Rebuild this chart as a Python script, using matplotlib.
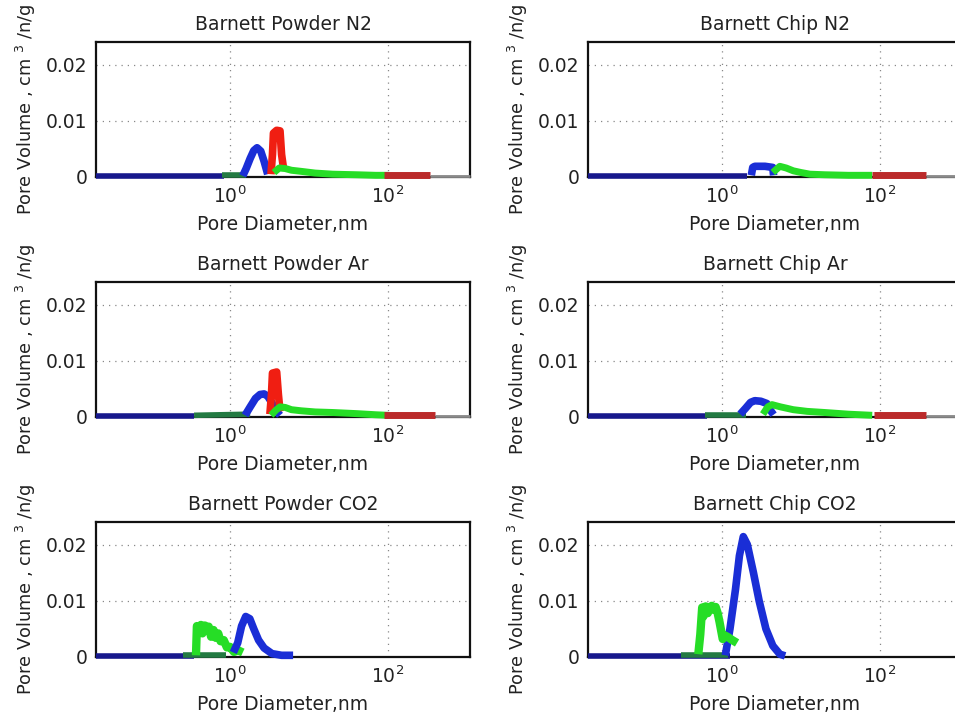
import numpy as np
import matplotlib.pyplot as plt

# pore size distributions, diameter in nm, pore volume in cm3/g
# --- Barnett Powder N2 ---
pn2_navy_d = [0.02, 0.85]
pn2_navy_v = [0.0002, 0.0002]
pn2_dkgreen_d = [0.8, 1.6]
pn2_dkgreen_v = [0.0003, 0.0003]
pn2_blue_d = [1.45, 1.6, 1.8, 2.0, 2.2, 2.45, 2.7, 3.0]
pn2_blue_v = [0.0002, 0.0015, 0.0033, 0.0047, 0.0052, 0.0046, 0.0028, 0.0005]
pn2_red_d = [3.3, 3.45, 3.55, 3.9, 4.3, 4.5, 4.8]
pn2_red_v = [0.0005, 0.004, 0.0078, 0.0083, 0.0082, 0.004, 0.0012]
pn2_green_d = [3.6, 4.2, 5, 6, 8, 12, 20, 40, 70, 100]
pn2_green_v = [0.0008, 0.0016, 0.0015, 0.0012, 0.001, 0.0007, 0.0005, 0.0004, 0.0003, 0.0003]
pn2_dkred_d = [90, 340]
pn2_dkred_v = [0.0003, 0.0003]
pn2_gray_d = [340, 1100]
pn2_gray_v = [0.0001, 0.0001]

# --- Barnett Chip N2 ---
cn2_navy_d = [0.02, 2.1]
cn2_navy_v = [0.0002, 0.0002]
cn2_blue_d = [2.35, 2.45, 2.6, 3.5, 4.4, 4.5]
cn2_blue_v = [0.0003, 0.0017, 0.0019, 0.0019, 0.0017, 0.0003]
cn2_green_d = [4.4, 5.4, 6.5, 8, 10, 13, 20, 40, 80]
cn2_green_v = [0.0008, 0.0019, 0.0016, 0.0011, 0.0008, 0.0005, 0.0004, 0.0003, 0.0003]
cn2_dkred_d = [80, 380]
cn2_dkred_v = [0.0003, 0.0003]
cn2_gray_d = [380, 1100]
cn2_gray_v = [0.0001, 0.0001]

# --- Barnett Powder Ar ---
par_navy_d = [0.02, 0.35]
par_navy_v = [0.0002, 0.0002]
par_dkgreen_d = [0.35, 1.8]
par_dkgreen_v = [0.0003, 0.0005]
par_blue_d = [1.55, 1.8, 2.1, 2.4, 2.7, 3.0, 3.4, 3.8, 4.3]
par_blue_v = [0.0003, 0.0018, 0.0033, 0.004, 0.0041, 0.0037, 0.0025, 0.0012, 0.0003]
par_red_d = [3.2, 3.35, 3.45, 3.9, 4.1, 4.3]
par_red_v = [0.0005, 0.004, 0.0078, 0.008, 0.004, 0.001]
par_green_d = [3.3, 3.8, 4.3, 5, 6, 8, 12, 20, 40, 70, 100]
par_green_v = [0.0003, 0.0012, 0.0018, 0.0017, 0.0013, 0.0011, 0.0009, 0.0008, 0.0006, 0.0004, 0.0003]
par_dkred_d = [90, 400]
par_dkred_v = [0.0003, 0.0003]
par_gray_d = [400, 1100]
par_gray_v = [0.0001, 0.0001]

# --- Barnett Chip Ar ---
car_navy_d = [0.02, 0.65]
car_navy_v = [0.0002, 0.0002]
car_dkgreen_d = [0.6, 2.0]
car_dkgreen_v = [0.0004, 0.0004]
car_blue_d = [1.7, 2.0, 2.3, 2.6, 3.1, 3.7, 4.0, 4.5]
car_blue_v = [0.0005, 0.0016, 0.0026, 0.0029, 0.0028, 0.0024, 0.0014, 0.0004]
car_green_d = [3.3, 3.8, 4.3, 5.5, 8, 12, 20, 40, 80]
car_green_v = [0.0005, 0.0018, 0.0022, 0.0018, 0.0013, 0.001, 0.0008, 0.0005, 0.0003]
car_dkred_d = [85, 380]
car_dkred_v = [0.0003, 0.0003]
car_gray_d = [380, 1100]
car_gray_v = [0.0001, 0.0001]

# --- Barnett Powder CO2 ---
pco2_navy_d = [0.02, 0.35]
pco2_navy_v = [0.0002, 0.0002]
pco2_dkgreen_d = [0.25, 0.9]
pco2_dkgreen_v = [0.0003, 0.0003]
pco2_green_d = [0.37, 0.38, 0.398, 0.427, 0.447, 0.479, 0.501, 0.537, 0.575, 0.617,
                0.661, 0.708, 0.759, 0.832, 0.912, 1.0, 1.12, 1.26, 1.45]
pco2_green_v = [0.0003, 0.0055, 0.0046, 0.0057, 0.0042, 0.0056, 0.0047, 0.0054, 0.0036, 0.0048,
                0.0034, 0.0042, 0.0028, 0.003, 0.0017, 0.0018, 0.0009, 0.0012, 0.0008]
pco2_blue_d = [1.1, 1.25, 1.4, 1.58, 1.78, 2.0, 2.3, 2.7, 3.4, 4.5, 6.3]
pco2_blue_v = [0.0008, 0.0025, 0.0055, 0.0072, 0.0068, 0.005, 0.003, 0.0016, 0.0006, 0.0003, 0.0003]

# --- Barnett Chip CO2 ---
cco2_navy_d = [0.02, 1.25]
cco2_navy_v = [0.0002, 0.0002]
cco2_dkgreen_d = [0.3, 1.2]
cco2_dkgreen_v = [0.0004, 0.0004]
cco2_blue_d = [1.1, 1.26, 1.48, 1.66, 1.86, 2.09, 2.5, 2.95, 3.6, 4.4, 5.4, 6.3]
cco2_blue_v = [0.0003, 0.005, 0.012, 0.018, 0.0214, 0.02, 0.015, 0.01, 0.005, 0.002, 0.0005, 0.0002]
cco2_green_d = [0.5, 0.53, 0.56, 0.58, 0.62, 0.66, 0.7, 0.74, 0.78, 0.83, 0.88,
                0.93, 0.98, 1.02, 1.1, 1.2, 1.35, 1.55]
cco2_green_v = [0.0005, 0.004, 0.0088, 0.0072, 0.009, 0.0078, 0.0088, 0.0091, 0.0084, 0.0089, 0.0078,
                0.0062, 0.0045, 0.0032, 0.0038, 0.0035, 0.003, 0.0025]

titles = ['Barnett Powder N2', 'Barnett Chip N2',
          'Barnett Powder Ar', 'Barnett Chip Ar',
          'Barnett Powder CO2', 'Barnett Chip CO2']
ytick_vals = [0, 0.01, 0.02]
ytick_text = ['0', '0.01', '0.02']
xtick_vals = [1, 100]
xtick_text = ['$10^{0}$', '$10^{2}$']

NAVY = '#17188c'
BLUE = '#1a2ed6'
RED = '#f01e12'
DKRED = '#bb2a2a'
GREEN = '#26dd26'
DKGREEN = '#237a42'
GRAY = '#8a8a8a'

panels = [
    [(pn2_navy_d, pn2_navy_v, NAVY, 4), (pn2_dkgreen_d, pn2_dkgreen_v, DKGREEN, 4),
     (pn2_blue_d, pn2_blue_v, BLUE, 5.5), (pn2_red_d, pn2_red_v, RED, 5.5),
     (pn2_green_d, pn2_green_v, GREEN, 5), (pn2_dkred_d, pn2_dkred_v, DKRED, 5),
     (pn2_gray_d, pn2_gray_v, GRAY, 2)],
    [(cn2_navy_d, cn2_navy_v, NAVY, 4), (cn2_blue_d, cn2_blue_v, BLUE, 5.5),
     (cn2_green_d, cn2_green_v, GREEN, 5), (cn2_dkred_d, cn2_dkred_v, DKRED, 5),
     (cn2_gray_d, cn2_gray_v, GRAY, 2)],
    [(par_navy_d, par_navy_v, NAVY, 4), (par_dkgreen_d, par_dkgreen_v, DKGREEN, 4),
     (par_blue_d, par_blue_v, BLUE, 5.5), (par_red_d, par_red_v, RED, 5.5),
     (par_green_d, par_green_v, GREEN, 5), (par_dkred_d, par_dkred_v, DKRED, 5),
     (par_gray_d, par_gray_v, GRAY, 2)],
    [(car_navy_d, car_navy_v, NAVY, 4), (car_dkgreen_d, car_dkgreen_v, DKGREEN, 4),
     (car_blue_d, car_blue_v, BLUE, 5.5), (car_green_d, car_green_v, GREEN, 5),
     (car_dkred_d, car_dkred_v, DKRED, 5), (car_gray_d, car_gray_v, GRAY, 2)],
    [(pco2_navy_d, pco2_navy_v, NAVY, 4), (pco2_dkgreen_d, pco2_dkgreen_v, DKGREEN, 4),
     (pco2_green_d, pco2_green_v, GREEN, 6), (pco2_blue_d, pco2_blue_v, BLUE, 5.5)],
    [(cco2_navy_d, cco2_navy_v, NAVY, 4), (cco2_dkgreen_d, cco2_dkgreen_v, DKGREEN, 4),
     (cco2_blue_d, cco2_blue_v, BLUE, 5.5), (cco2_green_d, cco2_green_v, GREEN, 6)],
]

plt.rcParams['font.family'] = 'DejaVu Sans'
plt.rcParams['mathtext.fontset'] = 'dejavusans'

fig = plt.figure(figsize=(9.55, 7.22), dpi=100)

col_left = [96 / 955, 588 / 955]
ax_w = 374 / 955
ax_h = 135 / 722
row_bottom = [1 - 177 / 722, 1 - 417 / 722, 1 - 657 / 722]

for i, series in enumerate(panels):
    r, c = divmod(i, 2)
    ax = fig.add_axes([col_left[c], row_bottom[r], ax_w, ax_h])
    for d, v, col, lw in series:
        ax.plot(d, v, color=col, lw=lw, solid_capstyle='butt',
                solid_joinstyle='round', clip_on=False, zorder=3)
    ax.set_xscale('log')
    ax.set_xlim(0.02, 1100)
    ax.set_ylim(0, 0.024)
    ax.set_xticks(xtick_vals)
    ax.set_xticklabels(xtick_text)
    ax.xaxis.set_minor_locator(plt.NullLocator())
    ax.set_yticks(ytick_vals)
    ax.set_yticklabels(ytick_text)
    ax.tick_params(length=0, labelsize=13.5, colors='#222222', pad=6)
    ax.grid(True, color='#888888', lw=0.9, linestyle=(0, (1, 4)))
    for sp in ax.spines.values():
        sp.set_linewidth(1.6)
        sp.set_color('#111111')
    ax.set_title(titles[i], fontsize=13.5, pad=9, color='#222222')
    ax.set_xlabel('Pore Diameter,nm', fontsize=13.5, labelpad=6, color='#222222')
    ax.set_ylabel('Pore Volume , cm $^{3}$ /n/g', fontsize=12.8, labelpad=6, color='#222222')

fig.savefig('out.png', dpi=100)
